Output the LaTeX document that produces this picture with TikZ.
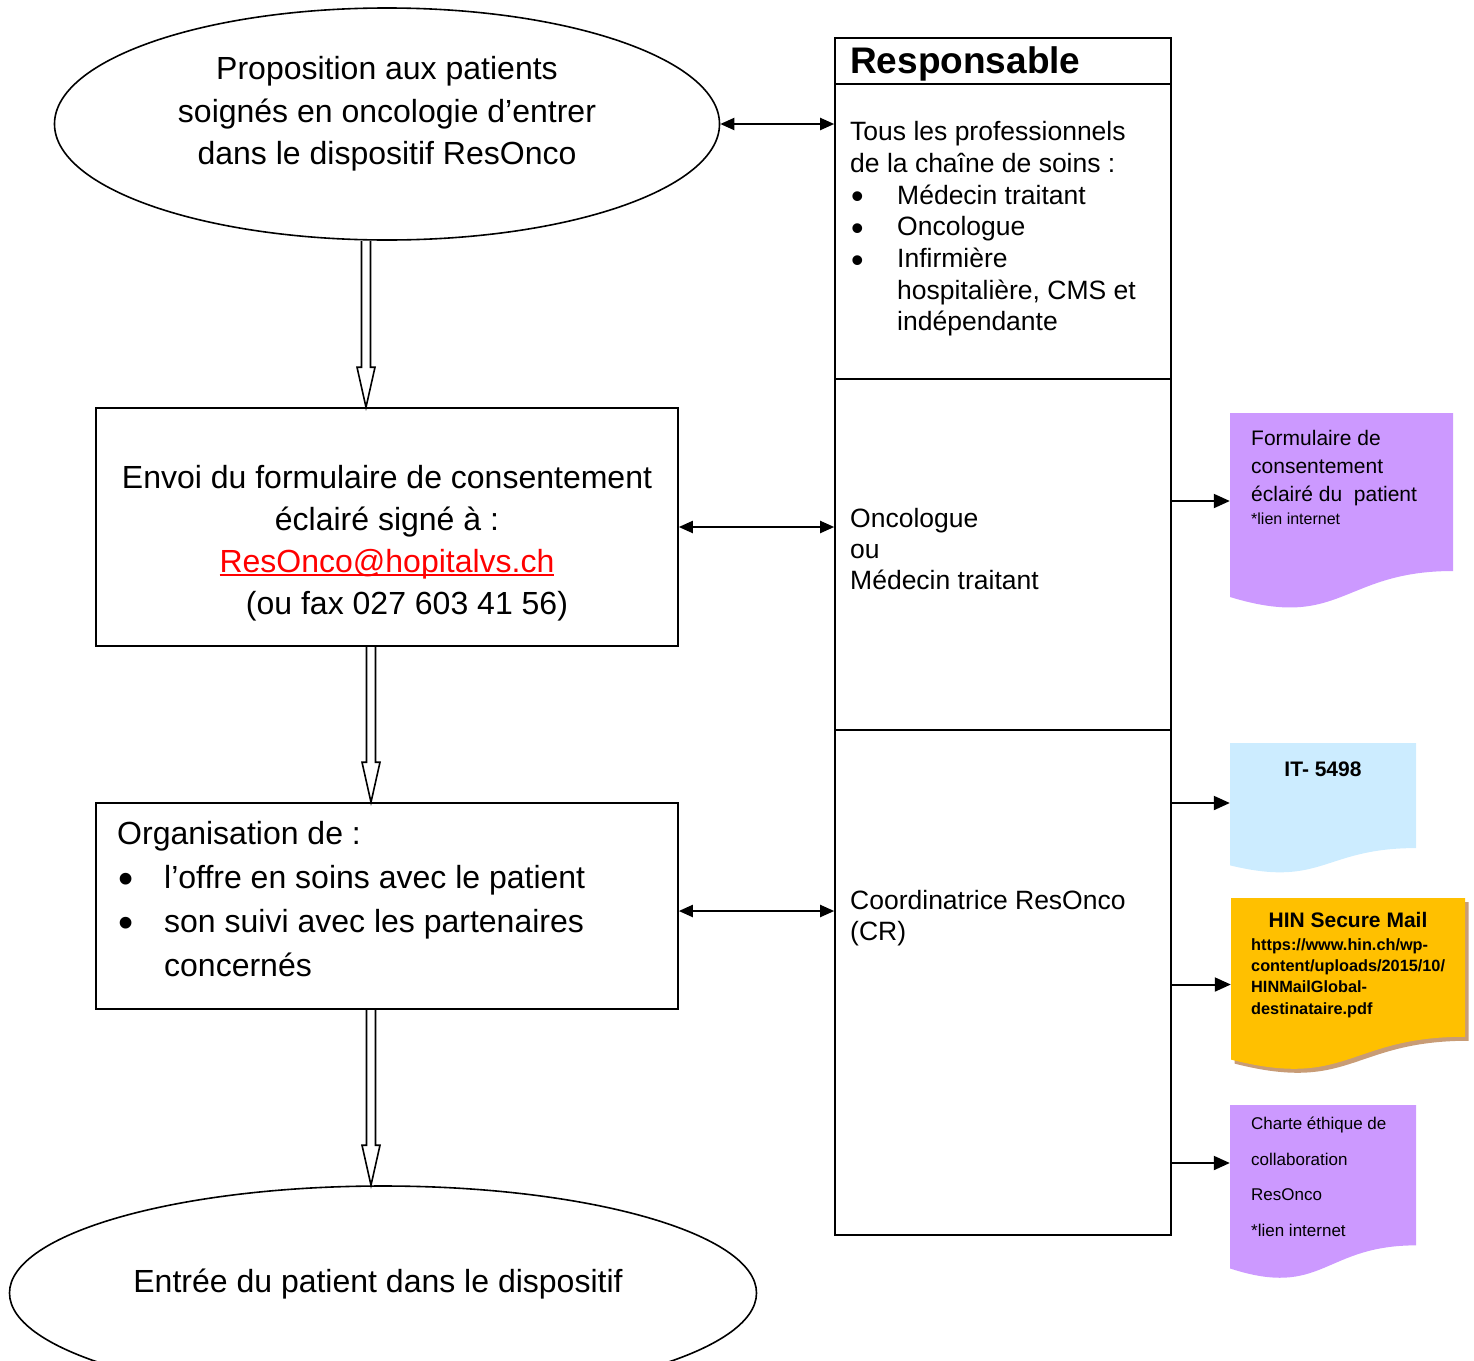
\documentclass[tikz,border=0pt]{standalone}
\usepackage{fontspec}
\usepackage{graphicx}
\setmainfont{Liberation Sans}
\usetikzlibrary{shapes.geometric,arrows.meta,calc}
\definecolor{violet1}{RGB}{204,153,255}
\definecolor{bleu1}{RGB}{204,236,255}
\definecolor{orange1}{RGB}{255,192,0}
\definecolor{ombre}{RGB}{200,156,118}
\newcommand\fs[2]{\fontsize{#1}{#2}\selectfont}
\newcommand\puce{\makebox[47pt][l]{\hspace{1pt}\smash{\raisebox{-0.17em}{\scalebox{1.35}{\textbullet}}}}}
\newcommand\souligne[1]{\setbox0\hbox{#1}\rlap{\rule[-3.5pt]{\wd0}{1.5pt}}\box0}
% fleche creuse verticale
\newcommand\blocfleche[2]{%
  \draw[line width=1.6pt] let \p1=(#1), \p2=(#2) in
    (\x1-4.5pt,\y1) -- (\x1-4.5pt,\y2+40pt) -- (\x1-9pt,\y2+40pt) -- (\x1,\y2)
    -- (\x1+9pt,\y2+40pt) -- (\x1+4.5pt,\y2+40pt) -- (\x1+4.5pt,\y1);}
\tikzset{
  docu/.style={rectangle, inner sep=0pt, path picture={
    \fill[#1] let \p1=(path picture bounding box.north west), \p2=(path picture bounding box.south east) in
      (\x1,\y1) -- (\x2,\y1) -- (\x2,{\y2+0.198*(\y1-\y2)})
      .. controls ({0.5*(\x1+\x2)},{\y2+0.198*(\y1-\y2)}) and ({0.5*(\x1+\x2)},{\y2-0.107*(\y1-\y2)})
      .. (\x1,{\y2+0.066*(\y1-\y2)}) -- cycle;}}
}
\begin{document}
\begin{tikzpicture}[x=1pt,y=-1pt,
  cadre/.style={draw, line width=1.6pt, inner sep=0pt},
  bulle/.style={draw, line width=1.6pt, ellipse, inner sep=0pt},
  texte/.style={inner sep=0pt, align=left},
  double fleche/.style={line width=2pt, {Triangle[length=14pt,width=12pt]}-{Triangle[length=14pt,width=12pt]}},
  fleche/.style={line width=2pt, -{Triangle[length=16pt,width=14pt]}}]
\useasboundingbox (0,0) rectangle (1474,1360);

% colonne de gauche
\node[bulle, minimum width=665, minimum height=232] (prop) at (387,124) {};
\node[texte, align=center, font=\fs{32}{42.5}] (proptxt) at (387,114)
  {Proposition aux patients\\soignés en oncologie d’entrer\\dans le dispositif ResOnco};
\node[cadre, minimum width=582, minimum height=238] (envoi) at (387,527) {};
\node[texte, align=center, font=\fs{32}{42}] (envoitxt) at (387,543)
  {Envoi du formulaire de consentement\\éclairé signé à :\\
   \textcolor{red}{\souligne{ResOnco@hopitalvs.ch}}\\\hspace*{40pt}(ou fax 027 603 41 56)};
\node[cadre, minimum width=582, minimum height=206] (orga) at (387,906) {};
\node[texte, font=\fs{32}{44}, anchor=west] (orgatxt) at (117,899)
  {Organisation de :\\\puce l’offre en soins avec le patient\\
   \puce son suivi avec les partenaires\\\hspace*{47pt}concernés};
\node[bulle, minimum width=747, minimum height=214] (entree) at (383,1293) {};
\node[texte, font=\fs{32}{42}] (entreetxt) at (378,1284) {Entrée du patient dans le dispositif};

\blocfleche{[xshift=-21pt]prop.south}{envoi.north}
\blocfleche{[xshift=-16pt]envoi.south}{orga.north}
\blocfleche{[xshift=-16pt]orga.south}{entree.north}

% tableau des responsables
\node[cadre, minimum width=336, minimum height=46] (tete) at (1003,61) {};
\node[cadre, minimum width=336, minimum height=295] (tous) at (1003,231.5) {};
\node[cadre, minimum width=336, minimum height=351] (onco) at (1003,554.5) {};
\node[cadre, minimum width=336, minimum height=505] (coord) at (1003,982.5) {};
\node[texte, font=\bfseries\fs{37}{40}, anchor=west] (tetetxt) at (850,64) {Responsable};
\node[texte, font=\fs{26.5}{31.7}, anchor=west] (toustxt) at (850,229)
  {Tous les professionnels\\de la chaîne de soins :\\\puce Médecin traitant\\\puce Oncologue\\
   \puce Infirmière\\\hspace*{47pt}hospitalière, CMS et\\\hspace*{47pt}indépendante};
\node[texte, font=\fs{26.5}{31}, anchor=west] (oncotxt) at (850,549)
  {Oncologue\\ou\\Médecin traitant};
\node[texte, font=\fs{26.5}{31}, anchor=west] (coordtxt) at (850,918.5)
  {Coordinatrice ResOnco\\(CR)};

\draw[double fleche] (prop.east) -- (prop.east -| tous.west);
\draw[double fleche] (envoi.east) -- (envoi.east -| onco.west);
\draw[double fleche] ([yshift=-5pt]orga.east) -- ([yshift=-5pt]orga.east -| coord.west);

% documents
\node[docu=violet1, minimum width=223, minimum height=197] (form) at (1341.5,511.5) {};
\node[docu=bleu1, minimum width=186, minimum height=131] (it) at (1323,808.5) {};
\node[docu=ombre, minimum width=234, minimum height=173] (hinombre) at (1351.5,988.5) {};
\node[docu=orange1, minimum width=234, minimum height=173] (hin) at (1348,984.5) {};
\node[docu=violet1, minimum width=186, minimum height=175] (charte) at (1323,1192.5) {};

\node[texte, font=\fs{21}{28}, anchor=west] (formtxt) at (1251,468)
  {Formulaire de\\consentement\\éclairé du\ \ patient};
\node[texte, font=\fs{16}{20}, anchor=west] (formlien) at (1251,519) {*lien internet};
\node[texte, font=\bfseries\fs{21}{24}] (ittxt) at (1323,769) {IT- 5498};
\node[texte, font=\bfseries\fs{21}{24}] (hintxt) at (1348,920) {HIN Secure Mail};
\node[texte, font=\bfseries\fs{16.3}{21.3}, anchor=west] (hinurl) at (1251,978)
  {https://www.hin.ch/wp-\\content/uploads/2015/10/\\HINMailGlobal-\\destinataire.pdf};
\node[texte, font=\fs{17}{35.5}, anchor=west] (chartetxt) at (1251,1177)
  {Charte éthique de\\collaboration\\ResOnco\\*lien internet};

\draw[fleche] ([yshift=10.5pt]form.west -| onco.east) -- ([yshift=10.5pt]form.west);
\draw[fleche] ([yshift=5.5pt]it.west -| coord.east) -- ([yshift=5.5pt]it.west);
\draw[fleche] (hin.west -| coord.east) -- (hin.west);
\draw[fleche] ([yshift=29.5pt]charte.west -| coord.east) -- ([yshift=29.5pt]charte.west);
\end{tikzpicture}
\end{document}
